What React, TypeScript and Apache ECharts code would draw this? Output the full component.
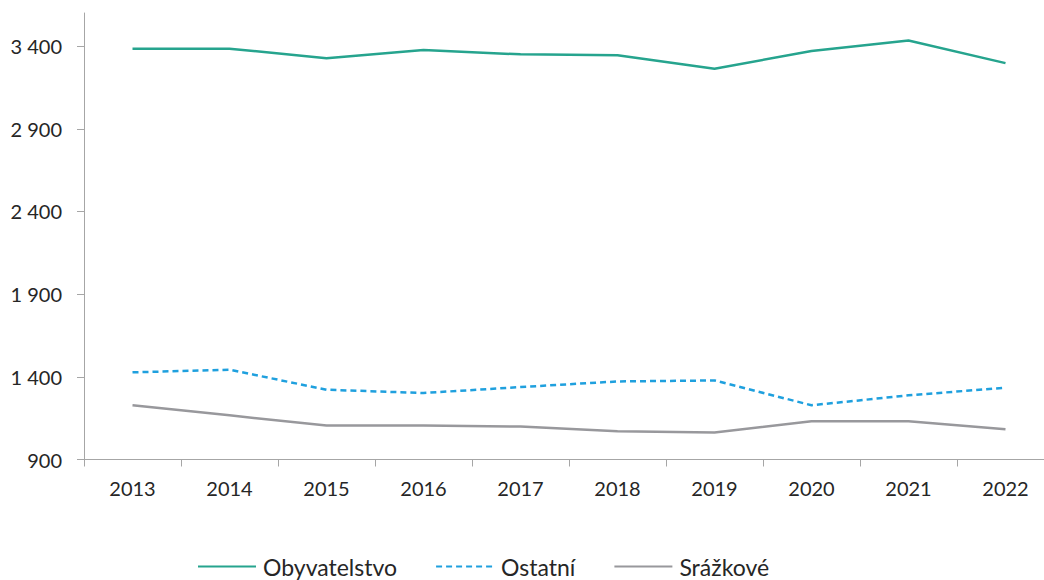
import React, { useEffect, useRef } from "react";
import * as echarts from "echarts";

const years = ["2013", "2014", "2015", "2016", "2017", "2018", "2019", "2020", "2021", "2022"];
const obyvatelstvo = [3384, 3384, 3327, 3376, 3350, 3344, 3263, 3370, 3434, 3297];
const ostatni = [1427, 1443, 1322, 1302, 1338, 1372, 1378, 1228, 1288, 1334];
const srazkove = [1228, 1167, 1105, 1105, 1099, 1071, 1063, 1131, 1131, 1083];
const yTicks = [900, 1400, 1900, 2400, 2900, 3400];
const seriesNames = ["Obyvatelstvo", "Ostatní", "Srážkové"];

const FONT = "Lato, 'Noto Sans', sans-serif";
const AXIS_COLOR = "#A6A6A6";
const TEXT_COLOR = "#262626";

function fmt(v: number): string {
  const s = String(Math.round(v));
  return s.replace(/\B(?=(\d{3})+(?!\d))/g, " ");
}

export default function App() {
  const ref = useRef<HTMLDivElement>(null);
  useEffect(() => {
    if (!ref.current) return;
    const chart = echarts.init(ref.current, undefined, { renderer: "svg" });
    chart.setOption({
      animation: false,
      backgroundColor: "#ffffff",
      grid: { left: 84, top: 13, right: 6, bottom: 120.5, containLabel: false },
      legend: {
        left: 197,
        top: 555,
        padding: 0,
        itemWidth: 58,
        itemHeight: 22,
        itemGap: 38,
        itemStyle: { opacity: 0 },
        textStyle: { fontFamily: FONT, fontSize: 23, lineHeight: 23, color: TEXT_COLOR, padding: [0, 0, 0, 2] },
        data: seriesNames,
      },
      xAxis: {
        type: "category",
        data: years,
        boundaryGap: true,
        axisLine: { lineStyle: { color: AXIS_COLOR, width: 1 } },
        axisTick: { show: true, length: 7, lineStyle: { color: AXIS_COLOR } },
        axisLabel: { fontFamily: FONT, fontSize: 20, color: TEXT_COLOR, margin: 18 },
        splitLine: { show: false },
      },
      yAxis: {
        type: "value",
        min: 900,
        max: 3600,
        axisLine: { show: true, lineStyle: { color: AXIS_COLOR, width: 1 } },
        axisTick: { show: true, length: 7, lineStyle: { color: AXIS_COLOR }, customValues: yTicks },
        axisLabel: {
          fontFamily: FONT,
          fontSize: 20,
          color: TEXT_COLOR,
          margin: 22,
          customValues: yTicks,
          formatter: (v: number) => fmt(v),
        },
        splitLine: { show: false },
      },
      series: [
        {
          name: seriesNames[0],
          type: "line",
          data: obyvatelstvo,
          showSymbol: false,
          symbol: "none",
          lineStyle: { color: "#26A48E", width: 2.5 },
          itemStyle: { color: "#26A48E" },
        },
        {
          name: seriesNames[1],
          type: "line",
          data: ostatni,
          showSymbol: false,
          symbol: "none",
          lineStyle: { color: "#1FA0DE", width: 2.5, type: [6, 4] },
          itemStyle: { color: "#1FA0DE" },
        },
        {
          name: seriesNames[2],
          type: "line",
          data: srazkove,
          showSymbol: false,
          symbol: "none",
          lineStyle: { color: "#98989C", width: 2.5 },
          itemStyle: { color: "#98989C" },
        },
      ],
    });
    return () => chart.dispose();
  }, []);
  return (
    <div style={{ position: "absolute", left: 0, top: 0, width: 1044, height: 580, overflow: "hidden", background: "#fff" }}>
      <div ref={ref} style={{ position: "absolute", left: 0, top: 0, width: 1060, height: 580 }} />
    </div>
  );
}
